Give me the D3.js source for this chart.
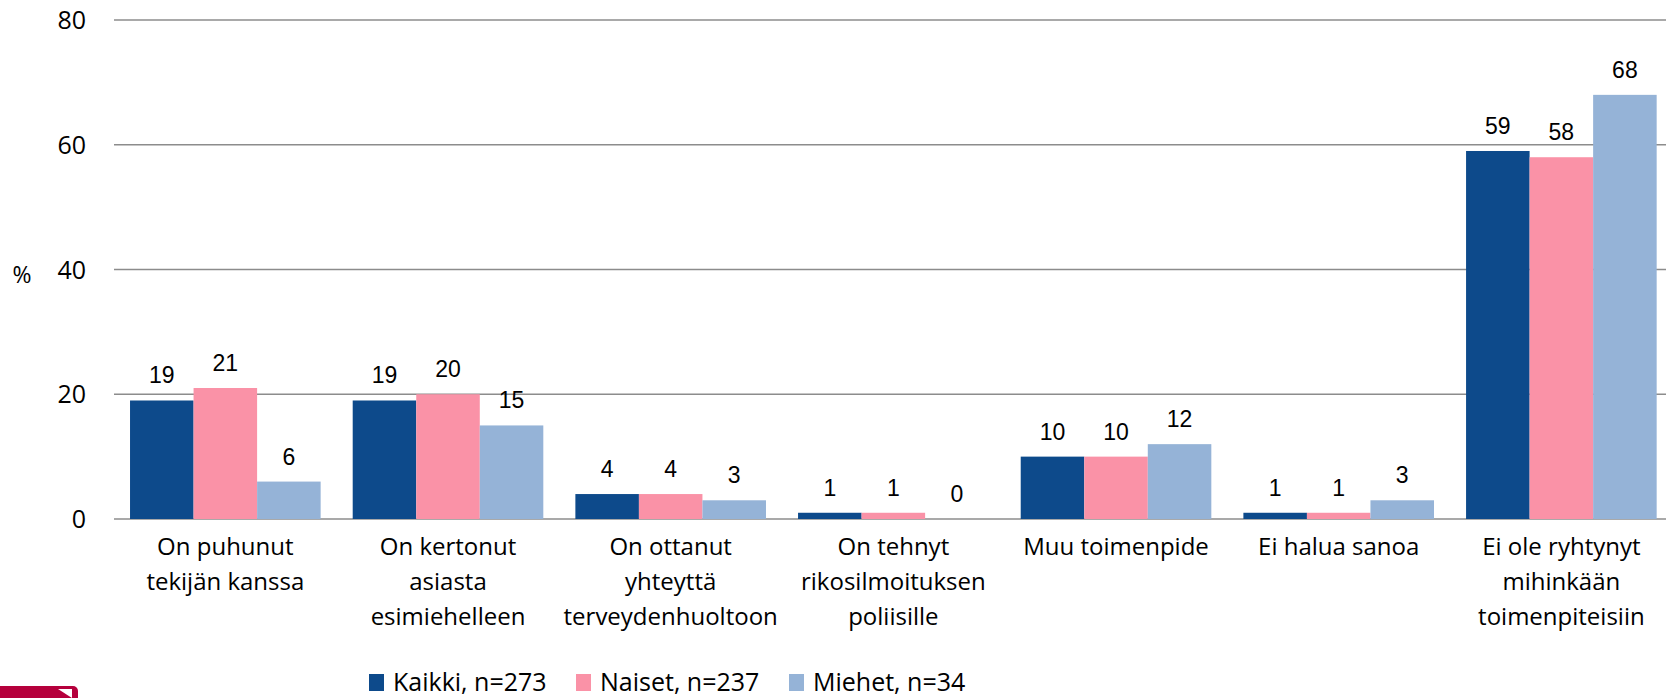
<!DOCTYPE html>
<html>
<head>
<meta charset="UTF-8">
<script src="https://cdn.jsdelivr.net/npm/d3@7"></script>
<style>
    body { margin: 0; background: white; }
    svg { display: block; }
</style>
</head>
<body>
<div id="chart"></div>
<script>
    const categories = [
        ["On puhunut", "tekijän kanssa"],
        ["On kertonut", "asiasta", "esimiehelleen"],
        ["On ottanut", "yhteyttä", "terveydenhuoltoon"],
        ["On tehnyt", "rikosilmoituksen", "poliisille"],
        ["Muu toimenpide"],
        ["Ei halua sanoa"],
        ["Ei ole ryhtynyt", "mihinkään", "toimenpiteisiin"]
    ];
    const seriesNames = ["Kaikki, n=273", "Naiset, n=237", "Miehet, n=34"];
    const kaikki = [19, 19, 4, 1, 10, 1, 59];
    const naiset = [21, 20, 4, 1, 10, 1, 58];
    const miehet = [6, 15, 3, 0, 12, 3, 68];
    const yTicks = [0, 20, 40, 60, 80];
    const colors = ["#0d4a8b", "#fa92a7", "#95b3d7"];

    const w = 1666, h = 698;
    const plotLeft = 114, plotRight = 1672.7;
    const plotTop = 20, plotBottom = 519;
    const textFont = "'Open Sans', sans-serif";

    const series = [kaikki, naiset, miehet];
    const catIdx = d3.range(categories.length);

    const svg = d3.select('#chart').append('svg')
        .attr('width', w).attr('height', h);

    const x0 = d3.scaleBand()
        .domain(catIdx)
        .range([plotLeft, plotRight])
        .paddingInner(0.144)
        .paddingOuter(0.072);
    const x1 = d3.scaleBand()
        .domain(d3.range(series.length))
        .range([0, x0.bandwidth()]);
    const y = d3.scaleLinear().domain([0, 80]).range([plotBottom, plotTop]);

    // gridlines
    svg.append('g').selectAll('line')
        .data(yTicks)
        .enter().append('line')
        .attr('x1', plotLeft).attr('x2', w)
        .attr('y1', d => y(d)).attr('y2', d => y(d))
        .attr('stroke', '#8c8c8c')
        .attr('stroke-width', 1.6);

    // y tick labels
    svg.append('g').selectAll('text')
        .data(yTicks)
        .enter().append('text')
        .attr('x', 86)
        .attr('y', d => y(d))
        .attr('dy', '0.36em')
        .attr('text-anchor', 'end')
        .style('font-family', textFont)
        .style('font-size', '25px')
        .attr('fill', '#000')
        .text(d => d);

    svg.append('text')
        .attr('x', 22).attr('y', 275)
        .attr('dy', '0.36em')
        .attr('text-anchor', 'middle')
        .style('font-family', textFont)
        .style('font-size', '23px')
        .text('%');

    // bars
    const groups = svg.append('g').selectAll('g')
        .data(catIdx)
        .enter().append('g')
        .attr('transform', i => `translate(${x0(i)},0)`);

    groups.selectAll('rect')
        .data(i => series.map((s, k) => ({k: k, v: s[i]})))
        .enter().append('rect')
        .attr('x', d => x1(d.k))
        .attr('y', d => y(d.v))
        .attr('width', x1.bandwidth())
        .attr('height', d => plotBottom - y(d.v))
        .attr('fill', d => colors[d.k]);

    groups.selectAll('text')
        .data(i => series.map((s, k) => ({k: k, v: s[i]})))
        .enter().append('text')
        .attr('x', d => x1(d.k) + x1.bandwidth() / 2)
        .attr('y', d => y(d.v) - 17)
        .attr('text-anchor', 'middle')
        .style('font-family', "'Liberation Sans', Arial, sans-serif")
        .style('font-size', '23px')
        .text(d => d.v);

    // category labels
    const catLabels = svg.append('g').selectAll('text')
        .data(catIdx)
        .enter().append('text')
        .attr('transform', i => `translate(${x0(i) + x0.bandwidth() / 2},555)`)
        .attr('text-anchor', 'middle')
        .style('font-family', textFont)
        .style('font-size', '24px');
    catLabels.selectAll('tspan')
        .data(i => categories[i])
        .enter().append('tspan')
        .attr('x', 0)
        .attr('dy', (d, j) => j === 0 ? 0 : 35)
        .text(d => d);

    // legend
    const legendX = [369, 576, 789];
    const legend = svg.append('g');
    seriesNames.forEach((name, k) => {
        legend.append('rect')
            .attr('x', legendX[k]).attr('y', 674)
            .attr('width', 15).attr('height', 17)
            .attr('fill', colors[k]);
        legend.append('text')
            .attr('x', legendX[k] + 24).attr('y', 691)
            .style('font-family', textFont)
            .style('font-size', '25px')
            .text(name);
    });

    // logo fragment in the corner
    svg.append('rect')
        .attr('x', -10).attr('y', 686)
        .attr('width', 88).attr('height', 30)
        .attr('rx', 5)
        .attr('fill', '#b5003c');
    svg.append('path')
        .attr('d', 'M58,689 L72,689 L72,698 Z')
        .attr('fill', '#fff');
</script>
</body>
</html>
